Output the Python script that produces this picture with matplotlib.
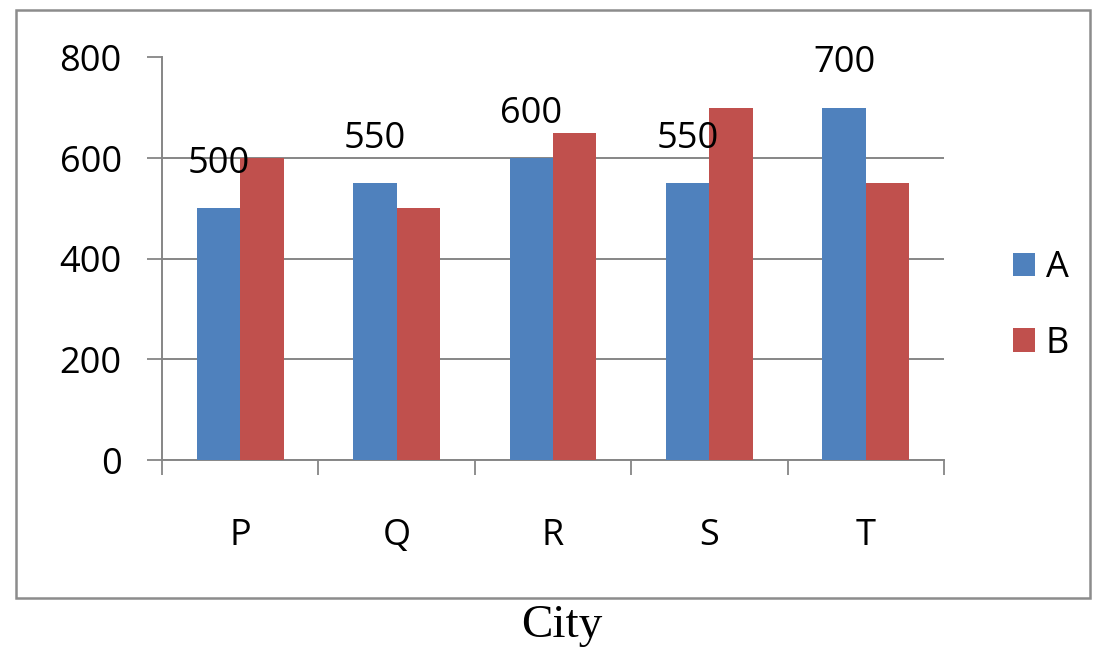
import matplotlib
matplotlib.use("Agg")
import matplotlib.pyplot as plt
from matplotlib.patches import Rectangle
import numpy as np

cities = ["P", "Q", "R", "S", "T"]
series_a = [500, 550, 600, 550, 700]
series_b = [600, 500, 650, 700, 550]
a_labels = ["500", "550", "600", "550", "700"]
y_ticks = [0, 200, 400, 600, 800]

W, H = 1103, 649
fig = plt.figure(figsize=(W / 100, H / 100), dpi=100)
fig.patch.set_facecolor("white")

def fx(px):
    return px / W

def fy(py):
    return 1 - py / H

# outer chart frame
fig.patches.append(Rectangle((fx(16), fy(598)), fx(1090) - fx(16), fy(10) - fy(598),
                             transform=fig.transFigure, fill=False,
                             edgecolor="#8c8c8c", linewidth=1.8, zorder=0))

ax = fig.add_axes([fx(162), fy(460), fx(944) - fx(162), fy(57.5) - fy(460)])
ax.set_facecolor("none")

blue = "#4F81BD"
red = "#C0504D"
x = np.arange(len(cities))
w = 0.278
bars_a = ax.bar(x - w / 2, series_a, width=w, color=blue, label="A", zorder=3)
bars_b = ax.bar(x + w / 2, series_b, width=w, color=red, label="B", zorder=3)

ax.set_xlim(-0.5, len(cities) - 0.5)
ax.set_ylim(0, 800)
ax.set_yticks(y_ticks)
ax.yaxis.grid(True, color="#868686", linewidth=1.4, zorder=1)
ax.set_axisbelow(True)

font = "Open Sans"
ax.set_yticklabels([str(v) for v in y_ticks], fontsize=26, family=font)
ax.tick_params(axis="y", length=11, width=1.3, color="#868686", pad=18)

ax.set_xticks(x)
ax.set_xticklabels(cities, fontsize=26, family=font)
ax.set_xticks(np.arange(-0.5, len(cities)), minor=True)
ax.tick_params(axis="x", which="major", length=0, pad=42)
ax.tick_params(axis="x", which="minor", length=11, width=1.3, color="#868686")

for s in ["top", "right"]:
    ax.spines[s].set_visible(False)
for s in ["left", "bottom"]:
    ax.spines[s].set_color("#868686")
    ax.spines[s].set_linewidth(1.4)

for xi, v, lab in zip(x, series_a, a_labels):
    ax.annotate(lab, (xi - w / 2, v), xytext=(0, 32), textcoords="offset points",
                ha="center", va="center", fontsize=26, family=font, zorder=4)

leg = ax.legend(loc="center left", bbox_to_anchor=(fx(980), fy(306)),
                bbox_transform=fig.transFigure, frameon=False,
                prop={"family": font, "size": 26},
                handlelength=0.62, handleheight=0.62, handletextpad=0.3,
                labelspacing=1.1)

fig.text(fx(562), fy(626), "City", ha="center", va="center",
         family="Liberation Serif", fontsize=34)

fig.savefig("out.png", dpi=100)
